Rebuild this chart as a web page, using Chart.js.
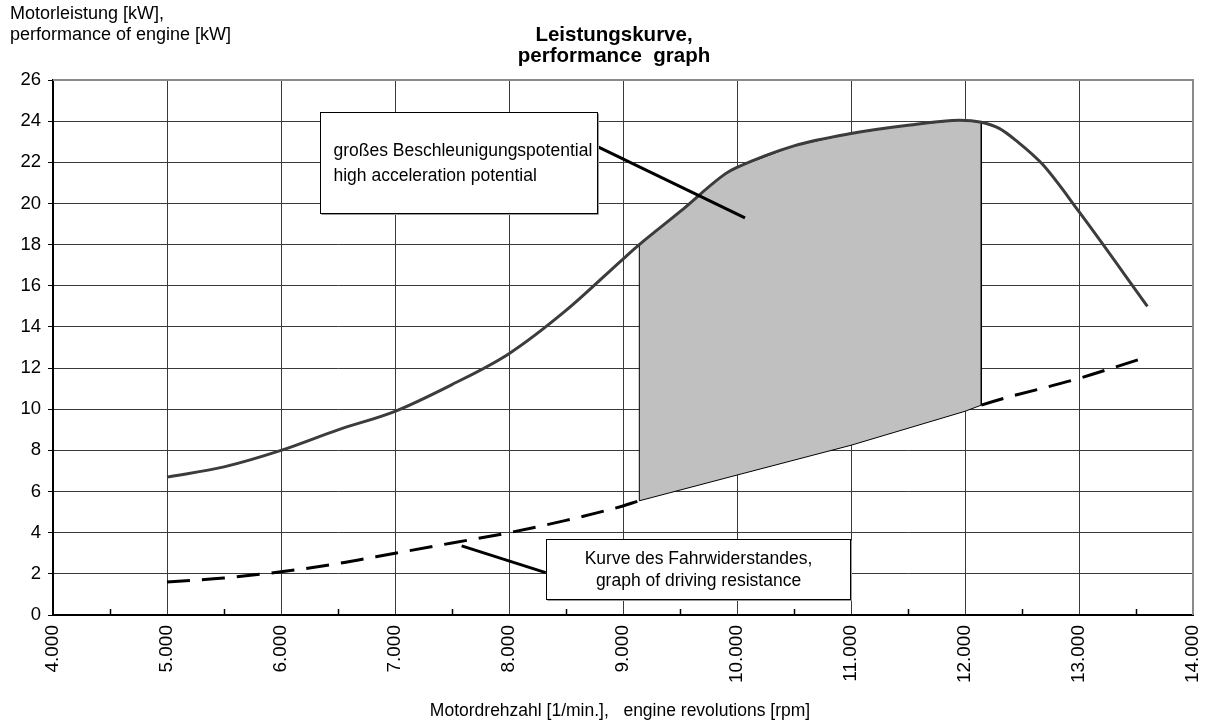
<!DOCTYPE html>
<html>
<head>
<meta charset="utf-8">
<script src="https://cdn.jsdelivr.net/npm/chart.js@4.4.1/dist/chart.umd.min.js"></script>
<style>
  html, body { margin: 0; padding: 0; background: #fff; }
  #wrap { width: 1205px; height: 722px; }
</style>
</head>
<body>
<div id="wrap"><canvas id="chart" width="1205" height="722"></canvas></div>
<script>
// Leistungskurve / performance graph

// Motorleistung (kW) über Drehzahl
const rpm   = [5000, 5500, 6000, 6500, 7000, 7500, 8000, 8500, 9000, 9143, 9500, 9900, 10000, 10500, 11000, 11500, 11950, 12143, 12300, 12450, 12680, 13000, 13600];
const power = [6.7, 7.2, 8.0, 9.0, 9.9, 11.2, 12.7, 14.8, 17.3, 18.0, 19.6, 21.45, 21.75, 22.8, 23.4, 23.8, 24.05, 23.95, 23.65, 23.05, 21.9, 19.6, 15.0];

// Fahrwiderstand (kW)
const resistRpm  = [5000, 5500, 6000, 6500, 7000, 7500, 8000, 8500, 9000, 9143, 10000, 11000, 12000, 12143, 13000, 13600];
const resistance = [1.6, 1.8, 2.1, 2.5, 3.0, 3.5, 4.0, 4.6, 5.3, 5.55, 6.8, 8.25, 9.9, 10.2, 11.5, 12.55];

// grau hinterlegter Bereich (Beschleunigungspotential)
const areaFrom = 9143;
const areaTo   = 12143;

const xTicks = [4000, 5000, 6000, 7000, 8000, 9000, 10000, 11000, 12000, 13000, 14000];
const yTicks = [0, 2, 4, 6, 8, 10, 12, 14, 16, 18, 20, 22, 24, 26];

const FONT = '"Liberation Sans", Arial, sans-serif';

const powerPts  = rpm.map((x, i) => ({ x, y: power[i] }));
const resistPts = resistRpm.map((x, i) => ({ x, y: resistance[i] }));
const inArea = p => p.x >= areaFrom && p.x <= areaTo;
const areaPts = powerPts.filter(inArea).concat(resistPts.filter(inArea).reverse());
areaPts.push(areaPts[0]);

function fmtRpm(v) {
  return Math.floor(v / 1000) + '.' + String(v % 1000).padStart(3, '0');
}

// Beschriftungen / Kästen in Datenkoordinaten
const notes = [
  { x0: 6342, x1: 8772, y0: 24.45, y1: 19.56, align: 'left',
    lines: ['großes Beschleunigungspotential', 'high acceleration potential'],
    lead: [8772, 22.77, 10070, 19.3] },
  { x0: 8322, x1: 10991, y0: 3.68, y1: 0.79, align: 'center',
    lines: ['Kurve des Fahrwiderstandes,', 'graph of driving resistance'],
    lead: [7585, 3.36, 8322, 2.06] }
];

const decor = {
  id: 'decor',
  beforeDatasetsDraw(chart) {
    const { ctx, chartArea: a } = chart;
    ctx.save();
    ctx.strokeStyle = '#8a8a8a';
    ctx.lineWidth = 2;
    ctx.beginPath();
    ctx.moveTo(a.left, a.top);
    ctx.lineTo(a.right, a.top);
    ctx.lineTo(a.right, a.bottom);
    ctx.stroke();
    ctx.restore();
  },
  afterDatasetsDraw(chart) {
    const { ctx, chartArea: a, scales: { x, y } } = chart;
    ctx.save();
    // kleine Zwischenstriche auf der x-Achse
    ctx.strokeStyle = '#000';
    ctx.lineWidth = 1.5;
    for (let v = 4500; v < 14000; v += 1000) {
      const px = Math.round(x.getPixelForValue(v)) + 0.5;
      ctx.beginPath();
      ctx.moveTo(px, a.bottom);
      ctx.lineTo(px, a.bottom - 6);
      ctx.stroke();
    }
    // Hinweislinien und Kästen
    notes.forEach(n => {
      ctx.strokeStyle = '#000';
      ctx.lineWidth = 3;
      ctx.beginPath();
      ctx.moveTo(x.getPixelForValue(n.lead[0]), y.getPixelForValue(n.lead[1]));
      ctx.lineTo(x.getPixelForValue(n.lead[2]), y.getPixelForValue(n.lead[3]));
      ctx.stroke();
      const l = Math.round(x.getPixelForValue(n.x0)) + 0.5;
      const r = Math.round(x.getPixelForValue(n.x1)) + 0.5;
      const t = Math.round(y.getPixelForValue(n.y0)) + 0.5;
      const b = Math.round(y.getPixelForValue(n.y1)) + 0.5;
      ctx.fillStyle = '#fff';
      ctx.fillRect(l, t, r - l, b - t);
      ctx.strokeStyle = '#9a9a9a';
      ctx.lineWidth = 1;
      ctx.beginPath();
      ctx.moveTo(r + 1, t + 1);
      ctx.lineTo(r + 1, b + 1);
      ctx.lineTo(l + 1, b + 1);
      ctx.stroke();
      ctx.strokeStyle = '#000';
      ctx.strokeRect(l, t, r - l, b - t);
      ctx.fillStyle = '#000';
      ctx.font = '17.5px ' + FONT;
      ctx.textBaseline = 'middle';
      const h = b - t;
      if (n.align === 'left') {
        ctx.textAlign = 'left';
        ctx.fillText(n.lines[0], l + 13, t + h * 0.38);
        ctx.fillText(n.lines[1], l + 13, t + h * 0.63);
      } else {
        ctx.textAlign = 'center';
        ctx.fillText(n.lines[0], (l + r) / 2, t + h * 0.32);
        ctx.fillText(n.lines[1], (l + r) / 2, t + h * 0.69);
      }
    });
    ctx.restore();
  },
  afterDraw(chart) {
    const { ctx, chartArea: a } = chart;
    ctx.save();
    ctx.fillStyle = '#000';
    ctx.textBaseline = 'middle';
    ctx.font = '18px ' + FONT;
    ctx.textAlign = 'left';
    ctx.fillText('Motorleistung [kW],', 10, 14);
    ctx.fillText('performance of engine [kW]', 10, 35);
    ctx.font = '17.5px ' + FONT;
    ctx.textAlign = 'center';
    ctx.fillText('Motordrehzahl [1/min.],   engine revolutions [rpm]', (a.left + a.right) / 2 - 3, 711);
    ctx.font = 'bold 20.5px ' + FONT;
    ctx.fillText('Leistungskurve,', 614, 35);
    ctx.fillText('performance  graph', 614, 56);
    ctx.restore();
  }
};

const ctx = document.getElementById('chart');
new Chart(ctx, {
  type: 'line',
  data: {
    datasets: [
      {
        label: 'Motorleistung',
        data: powerPts,
        borderColor: '#3c3c3c',
        borderWidth: 3,
        pointRadius: 0,
        cubicInterpolationMode: 'monotone',
        fill: false
      },
      {
        label: 'Beschleunigungspotential',
        data: areaPts,
        borderColor: '#000',
        borderWidth: 1,
        backgroundColor: '#c0c0c0',
        pointRadius: 0,
        tension: 0,
        fill: 'shape'
      },
      {
        label: 'Fahrwiderstand',
        data: resistPts,
        borderColor: '#000',
        borderWidth: 3,
        borderDash: [23, 12],
        pointRadius: 0,
        cubicInterpolationMode: 'monotone',
        fill: false,
        segment: {
          borderColor: c => (c.p0.parsed.x >= areaFrom && c.p1.parsed.x <= areaTo) ? 'rgba(0,0,0,0)' : '#000'
        }
      }
    ]
  },
  options: {
    responsive: false,
    animation: false,
    devicePixelRatio: 1,
    layout: { padding: { top: 80, right: 12, left: 0, bottom: 0 } },
    plugins: {
      legend: { display: false },
      tooltip: { enabled: false }
    },
    scales: {
      x: {
        type: 'linear',
        min: 4000,
        max: 14000,
        afterBuildTicks: s => { s.ticks = xTicks.map(v => ({ value: v })); },
        afterFit: s => { s.height = 107; s.paddingLeft = 0; s.paddingRight = 0; },
        ticks: {
          minRotation: 90,
          maxRotation: 90,
          padding: 10,
          color: '#000',
          font: { family: FONT, size: 19 },
          callback: v => fmtRpm(v)
        },
        grid: { color: '#3a3a3a', lineWidth: 1, drawTicks: false },
        border: { color: '#000', width: 2 }
      },
      y: {
        min: 0,
        max: 26,
        afterBuildTicks: s => { s.ticks = yTicks.map(v => ({ value: v })); },
        afterFit: s => { s.width = 53; },
        ticks: {
          padding: 7,
          color: '#000',
          font: { family: FONT, size: 18.5 }
        },
        grid: { color: '#3a3a3a', lineWidth: 1, tickLength: 5, tickColor: '#000' },
        border: { color: '#000', width: 2 }
      }
    }
  },
  plugins: [decor]
});
</script>
</body>
</html>
